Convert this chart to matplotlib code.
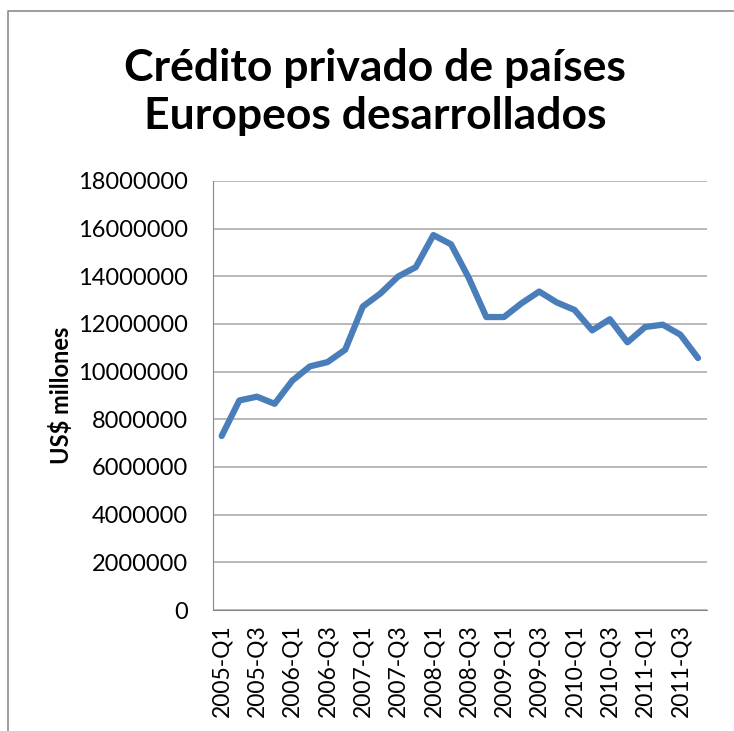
import matplotlib

matplotlib.use("Agg")
import matplotlib.pyplot as plt
from matplotlib.lines import Line2D

plt.rcParams["font.family"] = ["Lato", "DejaVu Sans"]

quarters = [f"{y}-Q{q}" for y in range(2005, 2012) for q in range(1, 5)]
credit = [
    7300000, 8790000, 8950000, 8650000, 9620000, 10220000, 10400000,
    10920000, 12730000, 13280000, 13990000, 14380000, 15730000, 15340000,
    13940000, 12290000, 12290000, 12870000, 13360000, 12900000, 12590000,
    11730000, 12200000, 11230000, 11870000, 11970000, 11550000, 10570000,
]
yticks = list(range(0, 18000001, 2000000))

fig = plt.figure(figsize=(7.34, 7.31), dpi=100)
ax = fig.add_axes([0.290, 0.1655, 0.673, 0.587])

xs = list(range(len(quarters)))
ax.plot(xs, credit, color="#4A7EBB", linewidth=4.5,
        solid_capstyle="round", solid_joinstyle="round", zorder=3)

ax.set_xlim(-0.5, len(quarters) - 0.5)
ax.set_ylim(0, 18000000)
ax.set_yticks(yticks)
ax.set_yticklabels([str(v) for v in yticks], fontsize=17)
ax.set_xticks(xs[::2])
ax.set_xticklabels(quarters[::2], rotation=90, fontsize=16.5)
ax.tick_params(axis="y", length=0, pad=18)
ax.tick_params(axis="x", length=0, pad=10)
ax.yaxis.grid(True, color="#A6A6A6", linewidth=1.1)
ax.set_axisbelow(True)
for side in ("top", "right"):
    ax.spines[side].set_visible(False)
ax.spines["left"].set_color("#888888")
ax.spines["bottom"].set_color("#888888")
ax.set_ylabel("US$ millones", fontsize=17, fontweight="bold", labelpad=3.5)

fig.text(0.511, 0.874, "Crédito privado de países\nEuropeos desarrollados",
         ha="center", va="center", fontsize=32, fontweight="bold",
         linespacing=1.25)

# chart frame (only top and left edges visible in the crop)
fx, fy = 8 / 734, 1 - 11 / 731
fig.lines.append(Line2D([fx, fx, 1.0], [0.0, fy, fy], transform=fig.transFigure,
                        color="#8C8C8C", linewidth=1.2))

fig.savefig("out.png", dpi=100)
